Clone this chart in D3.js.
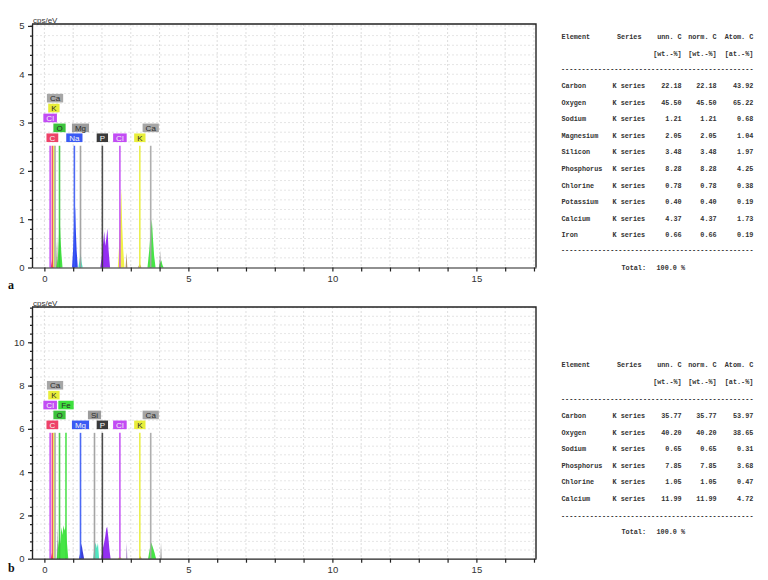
<!DOCTYPE html>
<html>
<head>
<meta charset="utf-8">
<script src="https://cdn.jsdelivr.net/npm/d3@7"></script>
<style>
    body { margin: 0; background: #fff; }
    svg { display: block; }
    .tick text { font-family: Arial, "Liberation Sans", sans-serif; font-size: 9.5px; fill: #333; }
    .tbl { font-family: "Liberation Mono", "DejaVu Sans Mono", monospace; font-weight: bold; font-size: 6.8px; fill: #333; }
    .lbl { font-family: Arial, "Liberation Sans", sans-serif; font-size: 8px; }
</style>
</head>
<body>
<svg id="chart" width="768" height="580"></svg>
<script>

// ---- data ----

var energyDomain = [-0.43, 17.07];   // keV
var xTicks = d3.range(0, 18);

// spectrum a: peaks as [keV, cps/eV] outlines
var peaksA = [
    { tone: "red",    pts: [[0.22, 0], [0.26, 0.12], [0.28, 0.19], [0.30, 0.08], [0.33, 0]] },
    { tone: "olive",  pts: [[0.41, 0], [0.44, 0.63], [0.46, 0]] },
    { tone: "green",  pts: [[0.42, 0], [0.47, 0.2], [0.50, 0.55], [0.53, 1.06], [0.56, 0.6], [0.59, 0.3], [0.63, 0]] },
    { tone: "blue",   pts: [[0.96, 0], [1.00, 0.4], [1.03, 0.9], [1.07, 1.26], [1.09, 0.8], [1.12, 0.35], [1.16, 0]] },
    { tone: "teal",   pts: [[1.18, 0], [1.22, 0.15], [1.26, 0.3], [1.29, 0.12], [1.33, 0]] },
    { tone: "violet", pts: [[1.94, 0], [1.99, 0.2], [2.04, 0.5], [2.08, 0.75], [2.11, 0.45], [2.15, 0.6], [2.19, 0.81], [2.23, 0.35], [2.28, 0]] },
    { tone: "yellow", pts: [[2.55, 0], [2.60, 0.5], [2.64, 1.2], [2.67, 1.62], [2.70, 0.9], [2.74, 0.35], [2.78, 0]] },
    { tone: "brown",  pts: [[2.82, 0], [2.85, 0.31], [2.88, 0]] },
    { tone: "brown",  pts: [[3.25, 0], [3.31, 0.08], [3.37, 0]] },
    { tone: "green",  pts: [[3.58, 0], [3.64, 0.35], [3.69, 0.75], [3.73, 1.0], [3.77, 0.6], [3.81, 0.25], [3.86, 0]] },
    { tone: "green",  pts: [[3.97, 0], [4.02, 0.1], [4.06, 0.15], [4.10, 0.05], [4.14, 0]] },
    { tone: "gray",   pts: [[3.99, 0], [4.02, 0.35], [4.04, 0]] }
];

// element markers a (level = row in the label stack)
var linesA = [
    { el: "Cl", keV: 0.20, level: 2 },
    { el: "C",  keV: 0.277, level: 0 },
    { el: "K",  keV: 0.33, level: 3 },
    { el: "Ca", keV: 0.37, level: 4 },
    { el: "O",  keV: 0.525, level: 1 },
    { el: "Na", keV: 1.041, level: 0 },
    { el: "Mg", keV: 1.254, level: 1 },
    { el: "P",  keV: 2.013, level: 0 },
    { el: "Cl", keV: 2.622, level: 0 },
    { el: "K",  keV: 3.314, level: 0 },
    { el: "Ca", keV: 3.692, level: 1 }
];

// spectrum b
var peaksB = [
    { tone: "red",    pts: [[0.22, 0], [0.27, 0.3], [0.32, 0]] },
    { tone: "gray",   pts: [[0.43, 0], [0.45, 1.52], [0.47, 0]] },
    { tone: "green",  pts: [[0.43, 0], [0.48, 0.6], [0.52, 1.0], [0.55, 0.7], [0.59, 1.45], [0.63, 1.1], [0.66, 1.55], [0.70, 1.3], [0.74, 1.5], [0.78, 0.8], [0.83, 0]] },
    { tone: "navy",   pts: [[1.20, 0], [1.25, 0.3], [1.29, 0.7], [1.33, 0.35], [1.38, 0]] },
    { tone: "teal",   pts: [[1.69, 0], [1.74, 0.55], [1.78, 0.74], [1.82, 0.5], [1.86, 0.72], [1.90, 0]] },
    { tone: "violet", pts: [[1.97, 0], [2.02, 0.4], [2.07, 0.7], [2.11, 1.0], [2.15, 1.4], [2.18, 1.48], [2.22, 1.0], [2.26, 0.4], [2.30, 0]] },
    { tone: "yellow", pts: [[2.55, 0], [2.62, 0.1], [2.69, 0]] },
    { tone: "lilac",  pts: [[2.84, 0], [2.86, 0.75], [2.88, 0]] },
    { tone: "brown",  pts: [[3.28, 0], [3.33, 0.12], [3.38, 0]] },
    { tone: "green",  pts: [[3.60, 0], [3.66, 0.45], [3.71, 0.75], [3.76, 0.55], [3.82, 0.3], [3.88, 0]] },
    { tone: "gray",   pts: [[4.03, 0], [4.05, 0.75], [4.07, 0]] }
];

var linesB = [
    { el: "Cl", keV: 0.20, level: 2 },
    { el: "C",  keV: 0.277, level: 0 },
    { el: "K",  keV: 0.33, level: 3 },
    { el: "Ca", keV: 0.37, level: 4 },
    { el: "O",  keV: 0.525, level: 1 },
    { el: "Fe", keV: 0.75, level: 2 },
    { el: "Mg", keV: 1.254, level: 0 },
    { el: "Si", keV: 1.740, level: 1 },
    { el: "P",  keV: 2.013, level: 0 },
    { el: "Cl", keV: 2.622, level: 0 },
    { el: "K",  keV: 3.314, level: 0 },
    { el: "Ca", keV: 3.692, level: 1 }
];

// quantification tables
var tableCols = ["Element", "Series", "unn. C", "norm. C", "Atom. C"];
var tableUnits = ["[wt.-%]", "[wt.-%]", "[at.-%]"];

var rowsA = [
    ["Carbon", "K series", 22.18, 22.18, 43.92],
    ["Oxygen", "K series", 45.50, 45.50, 65.22],
    ["Sodium", "K series", 1.21, 1.21, 0.68],
    ["Magnesium", "K series", 2.05, 2.05, 1.04],
    ["Silicon", "K series", 3.48, 3.48, 1.97],
    ["Phosphorus", "K series", 8.28, 8.28, 4.25],
    ["Chlorine", "K series", 0.78, 0.78, 0.38],
    ["Potassium", "K series", 0.40, 0.40, 0.19],
    ["Calcium", "K series", 4.37, 4.37, 1.73],
    ["Iron", "K series", 0.66, 0.66, 0.19]
];

var rowsB = [
    ["Carbon", "K series", 35.77, 35.77, 53.97],
    ["Oxygen", "K series", 40.20, 40.20, 38.65],
    ["Sodium", "K series", 0.65, 0.65, 0.31],
    ["Phosphorus", "K series", 7.85, 7.85, 3.68],
    ["Chlorine", "K series", 1.05, 1.05, 0.47],
    ["Calcium", "K series", 11.99, 11.99, 4.72]
];

var totalText = "100.0 %";

// ---- styles ----

var tone = {
    red: "#ec2f55", olive: "#7f7d4a", green: "#36e336", blue: "#2036f0",
    navy: "#2a2ad0", teal: "#40e4bc", violet: "#8a1cf0", yellow: "#f0f036",
    brown: "#a8885a", gray: "#7a7a7a", lilac: "#9a76c0"
};

var colorA = d3.scaleOrdinal()
    .domain(["Cl", "C", "K", "Ca", "O", "Na", "Mg", "P"])
    .range(["#c24cf4", "#ee4268", "#e8ee3a", "#a6a6a6", "#3cc43c", "#3a5af4", "#9c9c9c", "#3a3a3a"]);

var colorB = d3.scaleOrdinal()
    .domain(["Cl", "C", "K", "Ca", "O", "Fe", "Mg", "Si", "P"])
    .range(["#c24cf4", "#ee4268", "#e8ee3a", "#a6a6a6", "#3cc43c", "#3ee03e", "#3a5af4", "#9c9c9c", "#3a3a3a"]);

var panels = [
    { name: "a", top: 24, bottom: 267.5, yMax: 5.04, major: 1, minor: 0.2,
      peaks: peaksA, lines: linesA, color: colorA, rows: rowsA,
      tbl: { head: 36.7, units: 53.3, dash1: 68.3, row0: 85.7, step: 16.6, dash2: 249.3, total: 267.3 } },
    { name: "b", top: 307, bottom: 558.7, yMax: 11.63, major: 2, minor: 0.4,
      peaks: peaksB, lines: linesB, color: colorB, rows: rowsB,
      tbl: { head: 365, units: 382, dash1: 399, row0: 415.7, step: 16.6, dash2: 515.5, total: 532 } }
];

var svg = d3.select("#chart");

var x = d3.scaleLinear()
    .domain(energyDomain)
    .range([32, 536]);

function drawPanel(p) {

    var g = svg.append("g");

    var y = d3.scaleLinear()
        .domain([0, p.yMax])
        .range([p.bottom, p.top]);

    var nMinor = Math.floor(p.yMax / p.minor + 1e-6);
    var yMinor = d3.range(1, nMinor + 1).map(function (i) { return i * p.minor; });
    var yMajor = d3.range(0, Math.floor(p.yMax / p.major) + 1).map(function (i) { return i * p.major; });

    // grid
    g.selectAll(".vgrid")
        .data(xTicks)
        .join("line")
        .attr("x1", function (d) { return x(d); })
        .attr("x2", function (d) { return x(d); })
        .attr("y1", p.top)
        .attr("y2", p.bottom)
        .style("stroke", "#d6d6d6")
        .style("stroke-width", 0.8)
        .style("stroke-dasharray", "2,2");

    g.selectAll(".hgrid")
        .data(yMinor)
        .join("line")
        .attr("x1", 32)
        .attr("x2", 536)
        .attr("y1", function (d) { return y(d); })
        .attr("y2", function (d) { return y(d); })
        .style("stroke", "#dedede")
        .style("stroke-width", 0.8)
        .style("stroke-dasharray", "2,2");

    // peaks
    var area = d3.area()
        .x(function (d) { return x(d[0]); })
        .y0(y(0))
        .y1(function (d) { return y(d[1]); });

    g.selectAll(".peak")
        .data(p.peaks)
        .join("path")
        .attr("d", function (d) { return area(d.pts); })
        .style("fill", function (d) { return tone[d.tone]; })
        .style("opacity", 0.92);

    // element marker lines
    var lineTop = y(p.yMax / 2);

    g.selectAll(".marker")
        .data(p.lines)
        .join("line")
        .attr("x1", function (d) { return x(d.keV); })
        .attr("x2", function (d) { return x(d.keV); })
        .attr("y1", y(0))
        .attr("y2", lineTop)
        .style("stroke", function (d) { return p.color(d.el); })
        .style("stroke-width", 1.6)
        .style("opacity", 0.9);

    // element labels
    var lab = g.selectAll(".lab")
        .data(p.lines)
        .join("g")
        .attr("transform", function (d) {
            return "translate(" + x(d.keV) + "," + (lineTop - 8 - d.level * 9.9) + ")";
        });

    lab.append("rect");
    lab.append("text")
        .attr("class", "lbl")
        .attr("text-anchor", "middle")
        .attr("dy", "0.35em")
        .text(function (d) { return d.el; })
        .style("fill", function (d) {
            return d3.lab(p.color(d.el)).l < 60 ? "#f4f4f4" : "#2a2a2a";
        });

    lab.select("rect")
        .attr("x", function () {
            return -(this.parentNode.querySelector("text").getComputedTextLength() + 6) / 2;
        })
        .attr("width", function () {
            return this.parentNode.querySelector("text").getComputedTextLength() + 6;
        })
        .attr("y", -4.3)
        .attr("height", 8.6)
        .style("fill", function (d) { return p.color(d.el); });

    // axes
    g.append("g")
        .attr("transform", "translate(32,0)")
        .call(d3.axisLeft(y).tickValues(yMinor).tickSize(2).tickSizeOuter(0).tickFormat(""));

    g.append("g")
        .attr("transform", "translate(32,0)")
        .call(d3.axisLeft(y).tickValues(yMajor).tickSize(4).tickSizeOuter(0).tickPadding(3.5).tickFormat(d3.format("d")));

    g.append("g")
        .attr("transform", "translate(0," + p.bottom + ")")
        .call(d3.axisBottom(x).tickValues(xTicks).tickSize(4).tickSizeOuter(0).tickPadding(3.5)
            .tickFormat(function (d) { return d % 5 == 0 ? d : ""; }));

    g.selectAll(".domain, .tick line")
        .style("stroke", "#222")
        .style("stroke-width", 1.2);

    // frame top and right
    g.append("path")
        .attr("d", "M32," + p.top + "H536V" + p.bottom)
        .style("fill", "none")
        .style("stroke", "#222")
        .style("stroke-width", 1.4);

    g.append("text")
        .attr("x", 33)
        .attr("y", p.top - 1.5)
        .text("cps/eV")
        .style("font-family", "Arial, 'Liberation Sans', sans-serif")
        .style("font-size", "8px")
        .style("fill", "#333");

    g.append("text")
        .attr("x", 8)
        .attr("y", p.name == "a" ? 289 : 572)
        .text(p.name)
        .style("font-family", "'Liberation Serif', 'Times New Roman', serif")
        .style("font-weight", "bold")
        .style("font-size", "12px")
        .style("fill", "#111");

    drawTable(p);
}

function drawTable(p) {

    var t = p.tbl;
    var g = svg.append("g").attr("class", "tbl");
    var fmt = d3.format(".2f");
    var rightCols = [681.7, 716.7, 753.3];

    g.append("text").attr("x", 561.5).attr("y", t.head).attr("dy", "0.35em").text(tableCols[0]);
    g.append("text").attr("x", 617).attr("y", t.head).attr("dy", "0.35em").text(tableCols[1]);

    tableCols.slice(2).forEach(function (c, i) {
        g.append("text").attr("x", rightCols[i]).attr("y", t.head).attr("dy", "0.35em")
            .attr("text-anchor", "end").text(c);
        g.append("text").attr("x", rightCols[i]).attr("y", t.units).attr("dy", "0.35em")
            .attr("text-anchor", "end").text(tableUnits[i]);
    });

    [t.dash1, t.dash2].forEach(function (yy) {
        g.append("text")
            .attr("x", 561)
            .attr("y", yy)
            .attr("dy", "0.35em")
            .attr("textLength", 192.5)
            .attr("lengthAdjust", "spacingAndGlyphs")
            .text("-".repeat(47));
    });

    var row = g.selectAll(".row")
        .data(p.rows)
        .join("g")
        .attr("transform", function (d, i) { return "translate(0," + (t.row0 + i * t.step) + ")"; });

    row.append("text").attr("x", 561.5).attr("dy", "0.35em").text(function (d) { return d[0]; });
    row.append("text").attr("x", 612.5).attr("dy", "0.35em").text(function (d) { return d[1]; });

    [2, 3, 4].forEach(function (k, i) {
        row.append("text")
            .attr("x", rightCols[i])
            .attr("dy", "0.35em")
            .attr("text-anchor", "end")
            .text(function (d) { return fmt(d[k]); });
    });

    g.append("text").attr("x", 621.5).attr("y", t.total).attr("dy", "0.35em").text("Total:");
    g.append("text").attr("x", 656.5).attr("y", t.total).attr("dy", "0.35em").text(totalText);
}

panels.forEach(drawPanel);

</script>
</body>
</html>
